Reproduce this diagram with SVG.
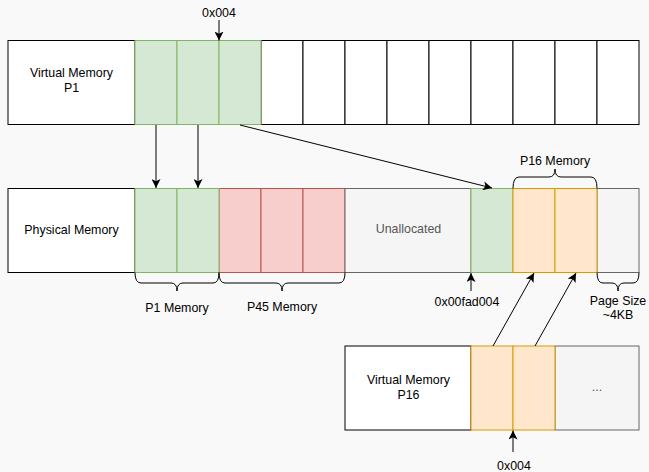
<svg xmlns="http://www.w3.org/2000/svg" width="649" height="472" viewBox="0 0 649 472">
<style>
text{font-family:"Liberation Sans",Arial,sans-serif;font-size:12.4px;fill:#000;text-anchor:middle}
.w{fill:#fff;stroke:#000;stroke-width:1}
.g{fill:#d5e8d4;stroke:#82b366;stroke-width:1}
.r{fill:#f8cecc;stroke:#b85450;stroke-width:1}
.o{fill:#ffe6cc;stroke:#d79b00;stroke-width:1}
.y{fill:#f5f5f5;stroke:#666;stroke-width:1}
.gt{fill:#555}
.c{fill:none;stroke:#000;stroke-width:1}
.b{fill:none;stroke:#000;stroke-width:1}
</style>
<defs>
<marker id="ah" viewBox="0 0 10 10" refX="10" refY="5" markerWidth="9" markerHeight="9" markerUnits="userSpaceOnUse" orient="auto">
<path d="M0,0 L10,5 L0,10 L2.5,5 z" fill="#000"/>
</marker>
</defs>
<rect width="649" height="472" fill="#f9f9f9"/>

<g id="vm-p1">
<rect class="w" x="8" y="40.5" width="127" height="84"/>
<text x="71.5" y="77">Virtual Memory</text>
<text x="71.5" y="92">P1</text>
<rect class="w" x="261" y="40.5" width="42" height="84"/>
<rect class="w" x="303" y="40.5" width="42" height="84"/>
<rect class="w" x="345" y="40.5" width="42" height="84"/>
<rect class="w" x="387" y="40.5" width="42" height="84"/>
<rect class="w" x="429" y="40.5" width="42" height="84"/>
<rect class="w" x="471" y="40.5" width="42" height="84"/>
<rect class="w" x="513" y="40.5" width="42" height="84"/>
<rect class="w" x="555" y="40.5" width="42" height="84"/>
<rect class="w" x="597" y="40.5" width="42" height="84"/>
<rect class="g" x="135" y="40.5" width="42" height="84"/>
<rect class="g" x="177" y="40.5" width="42" height="84"/>
<rect class="g" x="219" y="40.5" width="42" height="84"/>
</g>

<g id="physical">
<rect class="w" x="8" y="188.5" width="127" height="84"/>
<text x="71.5" y="234">Physical Memory</text>
<rect class="r" x="219" y="188.5" width="42" height="84"/>
<rect class="r" x="261" y="188.5" width="42" height="84"/>
<rect class="r" x="303" y="188.5" width="42" height="84"/>
<rect class="y" x="345" y="188.5" width="126" height="84"/>
<text class="gt" x="408.5" y="233">Unallocated</text>
<rect class="y" x="597" y="188.5" width="42" height="84"/>
<rect class="g" x="135" y="188.5" width="42" height="84"/>
<rect class="g" x="177" y="188.5" width="42" height="84"/>
<rect class="g" x="471" y="188.5" width="42" height="84"/>
<rect class="o" x="513" y="188.5" width="42" height="84"/>
<rect class="o" x="555" y="188.5" width="42" height="84"/>
</g>

<g id="vm-p16">
<rect class="w" x="345" y="346" width="126" height="84"/>
<text x="408.5" y="384">Virtual Memory</text>
<text x="408.5" y="399">P16</text>
<rect class="y" x="555" y="346" width="84" height="84"/>
<text class="gt" x="597" y="391">...</text>
<rect class="o" x="471" y="346" width="42" height="84"/>
<rect class="o" x="513" y="346" width="42" height="84"/>
</g>

<g id="braces">
<path class="b" d="M135,272.5 Q135,283 141,283 L171,283 Q177,283 177,291 Q177,283 183,283 L213,283 Q219,283 219,272.5"/>
<text x="177" y="312">P1 Memory</text>
<path class="b" d="M219,272.5 Q219,283 225,283 L276,283 Q282,283 282,291 Q282,283 288,283 L339,283 Q345,283 345,272.5"/>
<text x="282" y="311">P45 Memory</text>
<path class="b" d="M597,272.5 Q597,283 603,283 L612,283 Q618,283 618,291 Q618,283 624,283 L633,283 Q639,283 639,272.5"/>
<text x="618" y="305">Page Size</text>
<text x="618" y="319">~4KB</text>
<path class="b" d="M513,188.5 Q513,177 519,177 L549,177 Q555,177 555,169 Q555,177 561,177 L591,177 Q597,177 597,188.5"/>
<text x="555" y="165">P16 Memory</text>
</g>

<g id="labels">
<text x="219" y="17">0x004</text>
<text x="467" y="306">0x00fad004</text>
<text x="514" y="470">0x004</text>
</g>

<g id="connectors">
<line class="c" x1="219" y1="20" x2="219" y2="40.5" marker-end="url(#ah)"/>
<line class="c" x1="156" y1="125" x2="156" y2="188" marker-end="url(#ah)"/>
<line class="c" x1="198" y1="125" x2="198" y2="188" marker-end="url(#ah)"/>
<line class="c" x1="240" y1="125" x2="492" y2="188" marker-end="url(#ah)"/>
<line class="c" x1="471" y1="291" x2="471" y2="273" marker-end="url(#ah)"/>
<line class="c" x1="493" y1="346" x2="534" y2="273" marker-end="url(#ah)"/>
<line class="c" x1="535" y1="346" x2="576" y2="273" marker-end="url(#ah)"/>
<line class="c" x1="513" y1="452" x2="513" y2="430.5" marker-end="url(#ah)"/>
</g>
</svg>
